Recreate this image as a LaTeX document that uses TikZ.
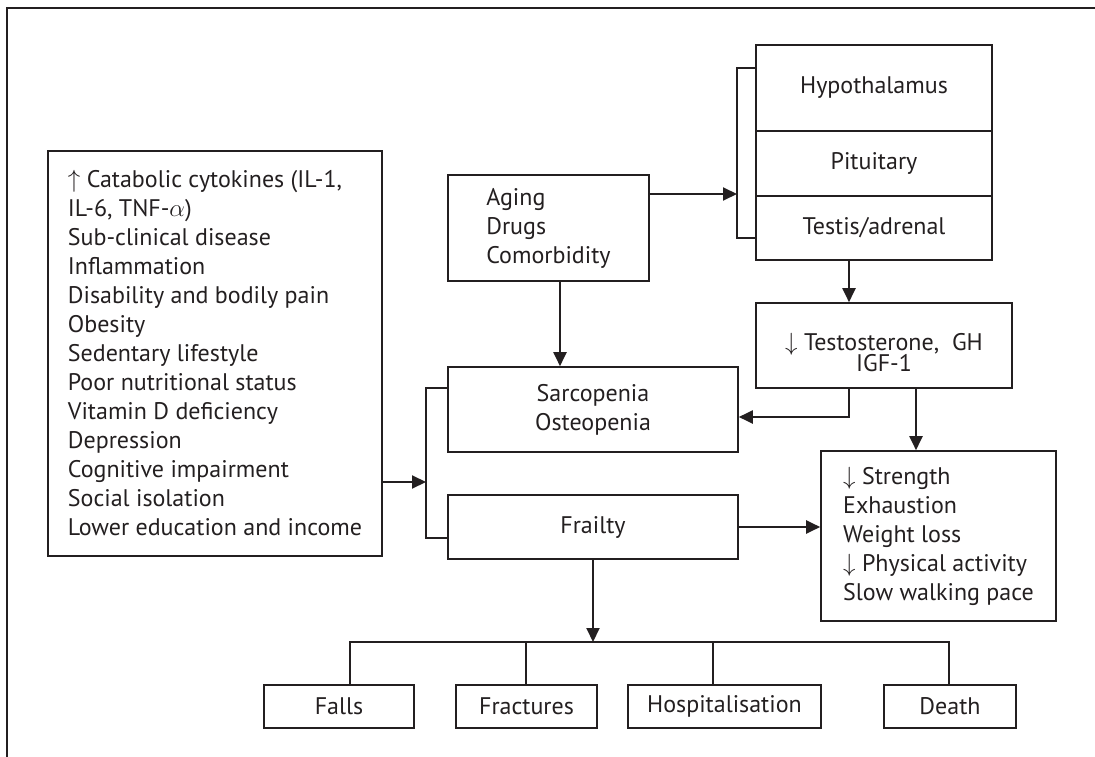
\documentclass[tikz,border=0pt]{standalone}
\usepackage{fontspec}
\setmainfont{PT Sans}
\usetikzlibrary{arrows.meta}
\definecolor{ink}{HTML}{231F20}
\newcommand{\upar}{\smash{$\uparrow$}}
\newcommand{\dnar}{\smash{$\downarrow$}}
\begin{document}
\begin{tikzpicture}[x=1pt,y=-1pt,
  box/.style={draw=ink, line width=1.6pt, rectangle, inner sep=0pt, text=ink,
    font=\fontsize{24}{29}\selectfont},
  lbox/.style={box, align=left},
  cbox/.style={box, align=center},
  arr/.style={draw=ink, line width=2pt, -{Triangle[length=14pt,width=13pt]}},
  ln/.style={draw=ink, line width=1.5pt},
  txt/.style={text=ink, inner sep=0pt, font=\fontsize{24}{21}\selectfont, align=center}]
\useasboundingbox (0,0) rectangle (1095,757);
% frame
\draw[draw=ink, line width=1.4pt] (7,757) -- (7,8) -- (1095,8);

% boxes
\node[lbox, minimum width=334pt, minimum height=405pt] (L) at (215,353.5)
 {\upar{} Catabolic cytokines (IL-1,\\IL-6, TNF-$\alpha$)\\Sub-clinical disease\\Inflammation\\Disability and bodily pain\\Obesity\\Sedentary lifestyle\\Poor nutritional status\\Vitamin D deficiency\\Depression\\Cognitive impairment\\Social isolation\\Lower education and income};
\node[lbox, minimum width=201pt, minimum height=106pt] (A) at (548.5,228) {Aging\\Drugs\\Comorbidity};
\node[cbox, minimum width=236pt, minimum height=86pt] (H) at (874,88) {Hypothalamus};
\node[cbox, minimum width=236pt, minimum height=65pt] (P) at (874,163.5) {Pituitary};
\node[cbox, minimum width=236pt, minimum height=64pt] (Te) at (874,228) {Testis/adrenal};
\node[box, minimum width=256pt, minimum height=85pt] (T) at (884,345.5) {};
\node[txt] (Tt) at (884,353) {\dnar{} Testosterone,~ GH\\IGF-1};
\node[cbox, minimum width=290pt, minimum height=85pt] (S) at (593,409.5) {Sarcopenia\\Osteopenia};
\node[cbox, minimum width=290pt, minimum height=64pt] (F) at (593,527) {Frailty};
\node[lbox, minimum width=235pt, minimum height=170pt] (Str) at (938.5,536)
 {\dnar{} Strength\\Exhaustion\\Weight loss\\\dnar{} Physical activity\\Slow walking pace};
\node[cbox, minimum width=150pt, minimum height=43pt] (Fa) at (339,706.5) {Falls};
\node[cbox, minimum width=141pt, minimum height=43pt] (Fr) at (526.5,706.5) {Fractures};
\node[cbox, minimum width=193pt, minimum height=43pt] (Ho) at (724.5,706.5) {Hospitalisation};
\node[cbox, minimum width=132pt, minimum height=43pt] (De) at (950,706.5) {Death};

% helper coordinates
\coordinate (hb) at (737,194);
\coordinate (ht) at (737,68);
\coordinate (hbot) at (737,238);
\coordinate (lb) at (426,482);
\coordinate (lt) at (426,388);
\coordinate (lbot) at (426,538);
\coordinate (xa) at (560,0);
\coordinate (xt1) at (849,0);
\coordinate (xt2) at (916,0);
\coordinate (ts) at (849,417);
\coordinate (busL) at (350,642);
\coordinate (busR) at (949,642);
\coordinate (xh) at (713,0);
\coordinate (xf) at (526,0);

% brackets
\draw[ln] (H.west |- ht) -- (ht) -- (hbot) -- (Te.west |- hbot);
\draw[ln] (S.west |- lt) -- (lt) -- (lbot) -- (F.west |- lbot);

% connectors
\draw[arr] (A.east |- hb) -- (hb);
\draw[arr] (L.east |- lb) -- (lb);
\draw[arr] (A.south -| xa) -- (S.north -| xa);
\draw[arr] (Te.south -| xt1) -- (T.north -| xt1);
\draw[arr] (T.south -| xt1) -- (ts) -- (S.east |- ts);
\draw[arr] (T.south -| xt2) -- (Str.north -| xt2);
\draw[arr] (F.east) -- (Str.west |- F.east);
\draw[arr] (F.south) -- (F.south |- busL);

% bus to outcomes
\draw[ln] (Fa.north -| busL) -- (busL) -- (busR) -- (De.north -| busR);
\draw[ln] (Fr.north -| xf) -- (xf |- busL);
\draw[ln] (Ho.north -| xh) -- (xh |- busL);
\end{tikzpicture}
\end{document}
